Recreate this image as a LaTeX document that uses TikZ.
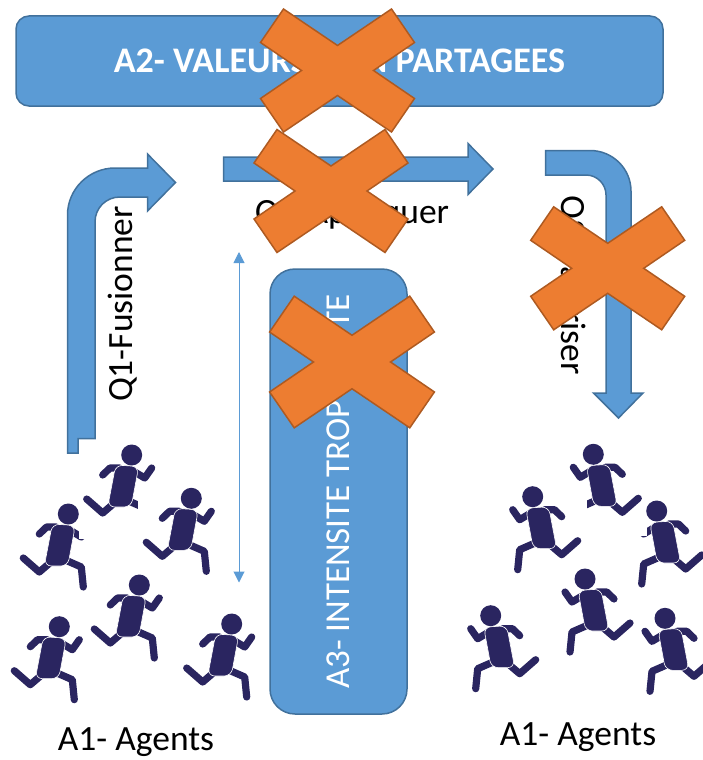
\documentclass[tikz,border=0pt]{standalone}
\usepackage{fontspec}
\setmainfont{Carlito}
\definecolor{boxblue}{HTML}{5B9BD5}
\definecolor{boxedge}{HTML}{41719C}
\definecolor{crossfill}{HTML}{ED7D31}
\definecolor{crossedge}{HTML}{AE5A21}
\definecolor{runnerblue}{HTML}{2A2560}
\usetikzlibrary{arrows.meta}
\tikzset{
bluebox/.style={draw=boxedge,fill=boxblue,line width=1.5pt,rounded corners=13pt,text=white,inner sep=0pt},
bluearrow/.style={draw=boxedge,fill=boxblue,line width=1.5pt},
label/.style={font=\fontsize{35.5}{40}\selectfont,inner sep=0pt},
limb/.style={runnerblue,line width=7.2pt,line cap=round,line join=round},
runner/.pic={
\draw[limb] (-29,20) -- (-21.7,13) -- (-12,13);
\draw[limb] (3,17) -- (13,23) -- (20,13);
\draw[limb] (-15,46) -- (-29,58) -- (-45,44);
\draw[limb] (-3,46) -- (13,53) -- (15,73);
\draw[white,fill=runnerblue,line width=0.6pt,rounded corners=7pt] (-16,10) -- (7,11.5) -- (-0.5,52) -- (-24,52) -- cycle;
\fill[runnerblue] (0,0) circle (10.5);
},
cross/.pic={
\draw[draw=crossedge,fill=crossfill,line width=1.5pt,line join=miter] (-54,-61.5) -- (0,-25) -- (54,-61.5) -- (77,-28) -- (36,0) -- (77,28) -- (54,61.5) -- (0,25) -- (-54,61.5) -- (-77,28) -- (-36,0) -- (-77,-28) -- cycle;
}
}
\begin{document}
\begin{tikzpicture}[x=1pt,y=-1pt]
\useasboundingbox (0,0) rectangle (703,760);
% boxes
\node[bluebox,minimum width=647pt,minimum height=90pt,font=\bfseries\fontsize{36}{40}\selectfont] (a2) at (339.5,61) {A2- VALEURS NON PARTAGEES};
\node[bluebox,rotate=90,minimum width=445pt,minimum height=137pt,rounded corners=25pt,font=\fontsize{35}{40}\selectfont] (a3) at (338.5,491.5) {A3- INTENSITE TROP HAUTE};
% arrows
\draw[bluearrow] (67.5,453) -- (78,453) -- (78,438.5) -- (95,438.5) -- (95,222) .. controls (95,208) and (106,197) .. (120,197) -- (147.5,197) -- (147.5,211) -- (175.5,182.5) -- (147.5,154) -- (147.5,168) -- (115,168) .. controls (89,168) and (67.5,189) .. (67.5,215) -- cycle;
\draw[bluearrow] (223.5,157) -- (468,157) -- (468,143.5) -- (493,169) -- (468,194.5) -- (468,181) -- (223.5,181) -- cycle;
\draw[bluearrow] (545.5,150.5) -- (590,150.5) .. controls (613,150.5) and (631,169) .. (631,191) -- (631,393) -- (643,393) -- (618.5,418) -- (593.5,393) -- (606,393) -- (606,195) .. controls (606,184) and (597,175) .. (586,175) -- (545.5,175) -- cycle;
\coordinate (th1) at (239,252);
\coordinate (th2) at (239,582.5);
\draw[{Triangle[length=11pt,width=11pt]}-{Triangle[length=11pt,width=11pt]},boxblue,line width=1pt] (th1) -- (th2);
% labels
\node[label,rotate=90] (q1) at (123,304) {Q1-Fusionner};
\node[label] (q2) at (352,214) {Q2-Appliquer};
\node[label,rotate=-90] (q3) at (571,285) {Q3-Valoriser};
\node[label] (a1l) at (136,742.5) {A1- Agents};
\node[label] (a1r) at (578,737.5) {A1- Agents};
% left runners
\pic (rl1) at (131.7,455) {runner};
\fill[white] (138,498) rectangle (165,540);
\pic (rl2) at (68.3,514) {runner};
\fill[white] (78.5,518) rectangle (95,539);
\pic (rl3) at (191.3,498.3) {runner};
\pic (rl4) at (139.3,585) {runner};
\pic (rl5) at (59.3,626.7) {runner};
\pic (rl6) at (231.7,624) {runner};
% right runners
\pic[xscale=-1] (rr1) at (593.3,454.3) {runner};
\fill[white] (586.5,498) rectangle (560,540);
\pic[xscale=-1] (rr2) at (656.7,511) {runner};
\fill[white] (646.5,516) rectangle (630,535.5);
\pic[xscale=-1] (rr3) at (532.7,496.7) {runner};
\pic[xscale=-1] (rr4) at (585,579) {runner};
\pic[xscale=-1] (rr5) at (490.7,615.7) {runner};
\pic[xscale=-1] (rr6) at (665,618.3) {runner};
% crosses
\pic (x1) at (337.5,70.5) {cross};
\pic (x2) at (331,191) {cross};
\pic (x3) at (607.7,268.3) {cross};
\pic[scale=1.07] (x4) at (352,362) {cross};
\end{tikzpicture}
\end{document}
